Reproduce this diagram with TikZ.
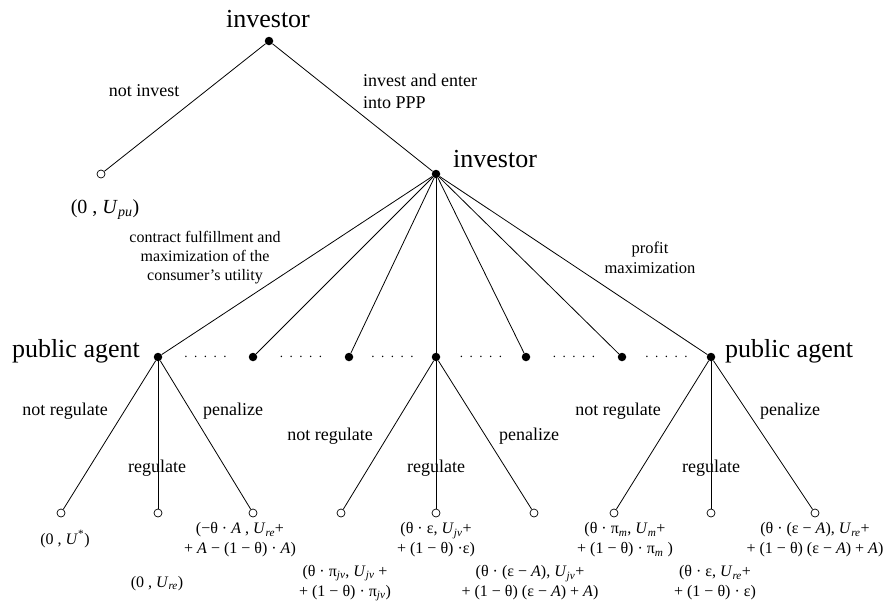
\documentclass[tikz,border=0pt]{standalone}
\usepackage{fontspec}
\setmainfont{Liberation Serif}
\usetikzlibrary{calc}
\newcommand{\ut}[1]{\textit{U}\textsubscript{\textit{#1}}}
\newcommand{\ita}{\textit{A}}
\newcommand{\gapdots}{.\hspace{6.5pt}.\hspace{6.5pt}.\hspace{6.5pt}.\hspace{6.5pt}.}
\begin{document}
\begin{tikzpicture}[x=1pt, y=-1pt,
  dec/.style={circle, fill, inner sep=0pt, minimum size=8.5pt},
  leaf/.style={circle, draw, fill=white, inner sep=0pt, minimum size=8pt, line width=0.7pt},
  player/.style={inner sep=0pt, font=\fontsize{26}{28}\selectfont},
  move/.style={inner sep=0pt, font=\fontsize{18}{22}\selectfont},
  note/.style={inner sep=0pt, align=center, font=\fontsize{16}{19}\selectfont},
  pay/.style={inner sep=0pt, align=center, font=\fontsize{16}{20}\selectfont},
  dots/.style={inner sep=0pt, font=\fontsize{13}{15}\selectfont},
  branch/.style={line width=0.8pt}]
\useasboundingbox (0,0) rectangle (885,603);
% decision nodes
\node (root) [dec] at (269,41) {};
\node (out) [leaf] at (101,174) {};
\node (inv) [dec] at (436,174) {};
\node (agentL) [dec] at (158,357) {};
\node (mid1) [dec] at (253,357) {};
\node (mid2) [dec] at (349,357) {};
\node (agentM) [dec] at (436,357) {};
\node (mid3) [dec] at (526,357) {};
\node (mid4) [dec] at (622,357) {};
\node (agentR) [dec] at (711,357) {};
% leaves
\node (lfL1) [leaf] at (61,513) {};
\node (lfL2) [leaf] at (158,513) {};
\node (lfL3) [leaf] at (253,513) {};
\node (lfM1) [leaf] at (341,513) {};
\node (lfM2) [leaf] at (436,513) {};
\node (lfM3) [leaf] at (534,513) {};
\node (lfR1) [leaf] at (614,513) {};
\node (lfR2) [leaf] at (711,513) {};
\node (lfR3) [leaf] at (815,513) {};
% branches
\draw[branch] (root) -- (out);
\draw[branch] (root) -- (inv);
\foreach \n in {agentL,mid1,mid2,agentM,mid3,mid4,agentR}
  \draw[branch] (inv) -- (\n);
\foreach \n in {lfL1,lfL2,lfL3} \draw[branch] (agentL) -- (\n);
\foreach \n in {lfM1,lfM2,lfM3} \draw[branch] (agentM) -- (\n);
\foreach \n in {lfR1,lfR2,lfR3} \draw[branch] (agentR) -- (\n);
% dots between the nodes
\node (gap1) [dots] at ($(agentL)!0.5!(mid1)$) {\gapdots};
\node (gap2) [dots] at ($(mid1)!0.5!(mid2)$) {\gapdots};
\node (gap3) [dots] at ($(mid2)!0.5!(agentM)$) {\gapdots};
\node (gap4) [dots] at ($(agentM)!0.5!(mid3)$) {\gapdots};
\node (gap5) [dots] at ($(mid3)!0.5!(mid4)$) {\gapdots};
\node (gap6) [dots] at ($(mid4)!0.5!(agentR)$) {\gapdots};
% players
\node (rootname) [player, anchor=base] at (268,27) {investor};
\node (invname) [player, anchor=base west] at (453,167) {investor};
\node (agentLname) [player, anchor=base east] at (140,357) {public agent};
\node (agentRname) [player, anchor=base west] at (725,357) {public agent};
% moves
\node (notinv) [move, anchor=base] at (144,96) {not invest};
\node (enter) [move, align=left, anchor=west] at (363,91) {invest and enter\\into PPP};
\node (contract) [note] at (205,258) {contract fulfillment and\\maximization of the\\consumer’s utility};
\node (profit) [note, font=\fontsize{16.5}{20}\selectfont] at (650,258) {profit\\maximization};
\node (notregL) [move, anchor=base] at (65,415) {not regulate};
\node (regL) [move, anchor=base] at (157,472) {regulate};
\node (penL) [move, anchor=base] at (233,415) {penalize};
\node (notregM) [move, anchor=base] at (330,440) {not regulate};
\node (regM) [move, anchor=base] at (436,472) {regulate};
\node (penM) [move, anchor=base] at (529,440) {penalize};
\node (notregR) [move, anchor=base] at (618,415) {not regulate};
\node (regR) [move, anchor=base] at (711,472) {regulate};
\node (penR) [move, anchor=base] at (790,415) {penalize};
% payoffs
\node (payout) [pay, font=\fontsize{20}{24}\selectfont, anchor=base] at (105,213) {(0 , \ut{pu})};
\node (payL1) [pay, anchor=base] at (65,544) {(0 , \textit{U}\textsuperscript{*})};
\node (payL2) [pay, anchor=base] at (157,587) {(0 , \ut{re})};
\node (payL3) [pay] at (240,540) {(−θ · \ita\ , \ut{re}+\\+ \ita\ − (1 − θ) · \ita)};
\node (payM1) [pay] at (345,583) {(θ · π\textsubscript{\textit{jv}}, \ut{jv} +\\+ (1 − θ) · π\textsubscript{\textit{jv}})};
\node (payM2) [pay] at (436,540) {(θ · ε, \ut{jv}+\\+ (1 − θ) ·ε)};
\node (payM3) [pay] at (530,583) {(θ · (ε − \ita), \ut{jv}+\\+ (1 − θ) (ε − \ita) + \ita)};
\node (payR1) [pay] at (625,540) {(θ · π\textsubscript{\textit{m}}, \ut{m}+\\+ (1 − θ) · π\textsubscript{\textit{m}} )};
\node (payR2) [pay] at (715,583) {(θ · ε, \ut{re}+\\+ (1 − θ) · ε)};
\node (payR3) [pay] at (815,540) {(θ · (ε − \ita), \ut{re}+\\+ (1 − θ) (ε − \ita) + \ita)};
\end{tikzpicture}
\end{document}
